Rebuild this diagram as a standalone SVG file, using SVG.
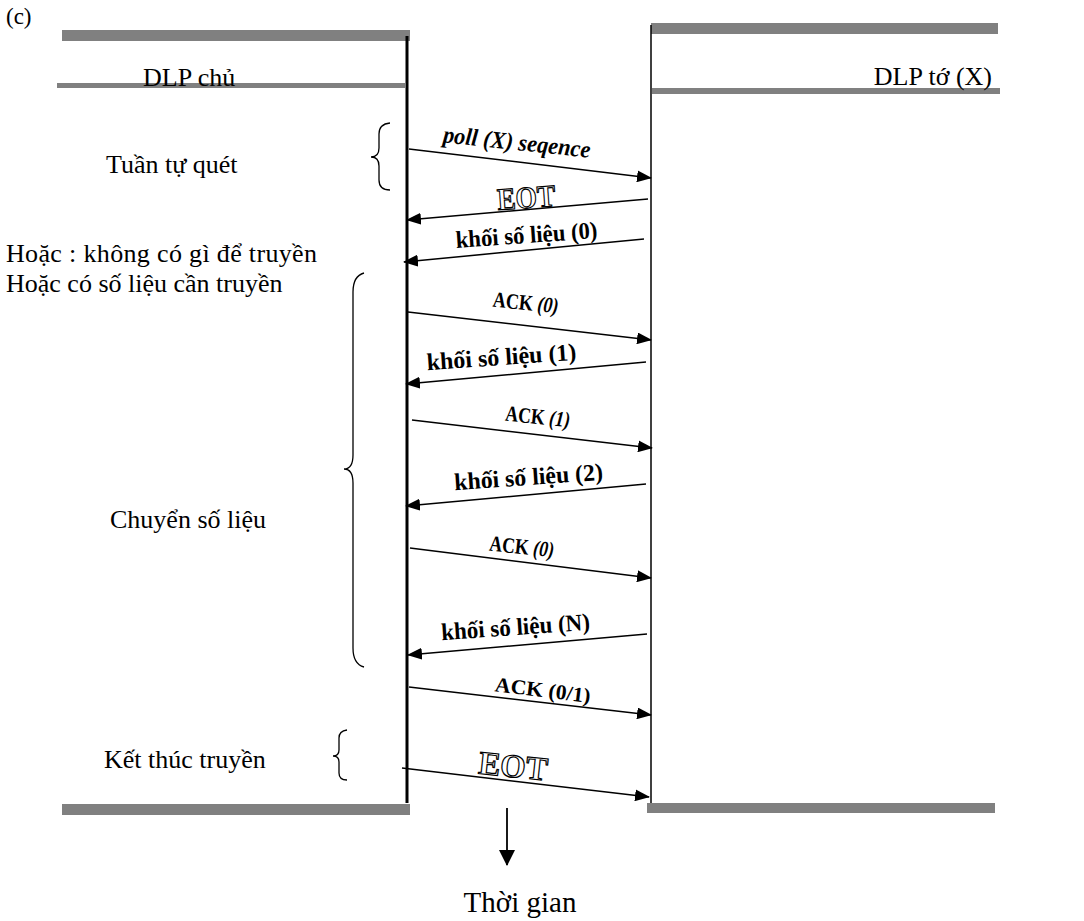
<svg xmlns="http://www.w3.org/2000/svg" width="1084" height="921" viewBox="0 0 1084 921">
<style>
.bar{fill:#808080}
.life{stroke:#000;fill:none}
.msg{stroke:#000;stroke-width:1.5;fill:none;marker-end:url(#ah)}
.brace{stroke:#000;stroke-width:1.3;fill:none}
.t{font-family:"Liberation Serif","Times New Roman",serif;font-size:26px;fill:#000}
.lb{font-family:"Liberation Serif","Times New Roman",serif;font-weight:bold;font-size:24px;fill:#000}
.it{font-style:italic}
.eot{font-family:"Liberation Serif","Times New Roman",serif;font-size:31px;fill:#fff;stroke:#000;stroke-width:1.2;font-weight:bold}
</style>
<defs>
<marker id="ah" markerWidth="15" markerHeight="12" refX="14" refY="6" orient="auto" markerUnits="userSpaceOnUse">
<path d="M0,0 L15,6 L0,12 Z" fill="#000"/>
</marker>
<marker id="ah2" markerWidth="16" markerHeight="16" refX="15" refY="8" orient="auto" markerUnits="userSpaceOnUse">
<path d="M0,0 L16,8 L0,16 Z" fill="#000"/>
</marker>
</defs>
<rect width="1084" height="921" fill="#fff"/>
<text class="t" x="6" y="24" style="font-size:23px">(c)</text>

<g id="master">
<rect class="bar" x="62" y="30" width="348" height="11"/>
<rect class="bar" x="57" y="83" width="348" height="5"/>
<text class="t" x="143" y="86">DLP chủ</text>
<line class="life" x1="407" y1="36" x2="407" y2="803" stroke-width="3"/>
<rect class="bar" x="62" y="804" width="348" height="11"/>
</g>

<g id="slave">
<rect class="bar" x="651" y="23" width="347" height="11"/>
<rect class="bar" x="652" y="88" width="348" height="6"/>
<text class="t" x="992" y="85" text-anchor="end">DLP tớ (X)</text>
<line class="life" x1="651" y1="25" x2="651" y2="805" stroke-width="1.5"/>
<rect class="bar" x="647" y="803" width="348" height="10"/>
</g>

<g id="phase-poll">
<path class="brace" d="M390,123 Q379,124 379,134 L379,148 Q379,157 371,157 Q379,157 379,166 L379,180 Q379,190 390,190"/>
<text class="t" x="106" y="173">Tuần tự quét</text>
</g>

<g id="note-or">
<text class="t" x="6" y="262" textLength="311">Hoặc : không có gì để truyền</text>
<text class="t" x="6" y="292">Hoặc có số liệu cần truyền</text>
</g>

<g id="phase-data">
<path class="brace" d="M364,273 Q353,276 353,292 L353,455 Q353,469 344,469 Q353,469 353,483 L353,648 Q353,664 364,667"/>
<text class="t" x="110" y="528">Chuyển số liệu</text>
</g>

<g id="phase-end">
<path class="brace" d="M347,730 Q339,731 339,738 L339,750 Q339,756 333,756 Q339,756 339,762 L339,773 Q339,780 347,780"/>
<text class="t" x="104" y="768">Kết thúc truyền</text>
</g>

<g id="connectors">
<line class="msg" x1="409" y1="149" x2="651" y2="178"/>
<line class="msg" x1="648" y1="199" x2="407" y2="220"/>
<line class="msg" x1="644" y1="239" x2="404" y2="262"/>
<line class="msg" x1="408" y1="312" x2="651" y2="340"/>
<line class="msg" x1="646" y1="362" x2="406" y2="384"/>
<line class="msg" x1="412" y1="420" x2="652" y2="448"/>
<line class="msg" x1="646" y1="484" x2="406" y2="506"/>
<line class="msg" x1="410" y1="548" x2="651" y2="578"/>
<line class="msg" x1="647" y1="634" x2="408" y2="655"/>
<line class="msg" x1="409" y1="687" x2="651" y2="715"/>
<line class="msg" x1="402" y1="768" x2="649" y2="797"/>
<line x1="507" y1="808" x2="507" y2="865" stroke="#000" stroke-width="1.8" marker-end="url(#ah2)"/>
</g>

<g id="msg-labels">
<text class="lb it" transform="translate(516,150) rotate(6)" text-anchor="middle" textLength="148" lengthAdjust="spacingAndGlyphs">poll (X) seqence</text>
<text class="eot" transform="translate(527,208) rotate(-4)" text-anchor="middle" textLength="58" lengthAdjust="spacingAndGlyphs">EOT</text>
<text class="lb" transform="translate(527,243) rotate(-4)" text-anchor="middle" textLength="142" lengthAdjust="spacingAndGlyphs">khối số liệu (0)</text>
<text class="lb" transform="translate(525,310) rotate(6)" text-anchor="middle" textLength="66" lengthAdjust="spacingAndGlyphs" style="font-size:22px">ACK <tspan class="it">(0)</tspan></text>
<text class="lb" transform="translate(502,365) rotate(-4)" text-anchor="middle" textLength="150" lengthAdjust="spacingAndGlyphs">khối số liệu (1)</text>
<text class="lb" transform="translate(537,424) rotate(6)" text-anchor="middle" textLength="65" lengthAdjust="spacingAndGlyphs" style="font-size:22px">ACK <tspan class="it">(1)</tspan></text>
<text class="lb" transform="translate(529,485) rotate(-4)" text-anchor="middle" textLength="149" lengthAdjust="spacingAndGlyphs">khối số liệu (2)</text>
<text class="lb" transform="translate(521,554) rotate(6)" text-anchor="middle" textLength="65" lengthAdjust="spacingAndGlyphs" style="font-size:22px">ACK <tspan class="it">(0)</tspan></text>
<text class="lb" transform="translate(516,635) rotate(-4)" text-anchor="middle" textLength="149" lengthAdjust="spacingAndGlyphs">khối số liệu (N)</text>
<text class="lb" transform="translate(542,697) rotate(7)" text-anchor="middle" textLength="96" lengthAdjust="spacingAndGlyphs" style="font-size:21px">ACK (0/1)</text>
<text class="eot" transform="translate(512,777) rotate(6)" text-anchor="middle" textLength="69" lengthAdjust="spacingAndGlyphs" style="font-size:33px">EOT</text>
</g>

<g id="time">
<text class="t" x="520" y="912" text-anchor="middle" style="font-size:29px">Thời gian</text>
</g>
</svg>
